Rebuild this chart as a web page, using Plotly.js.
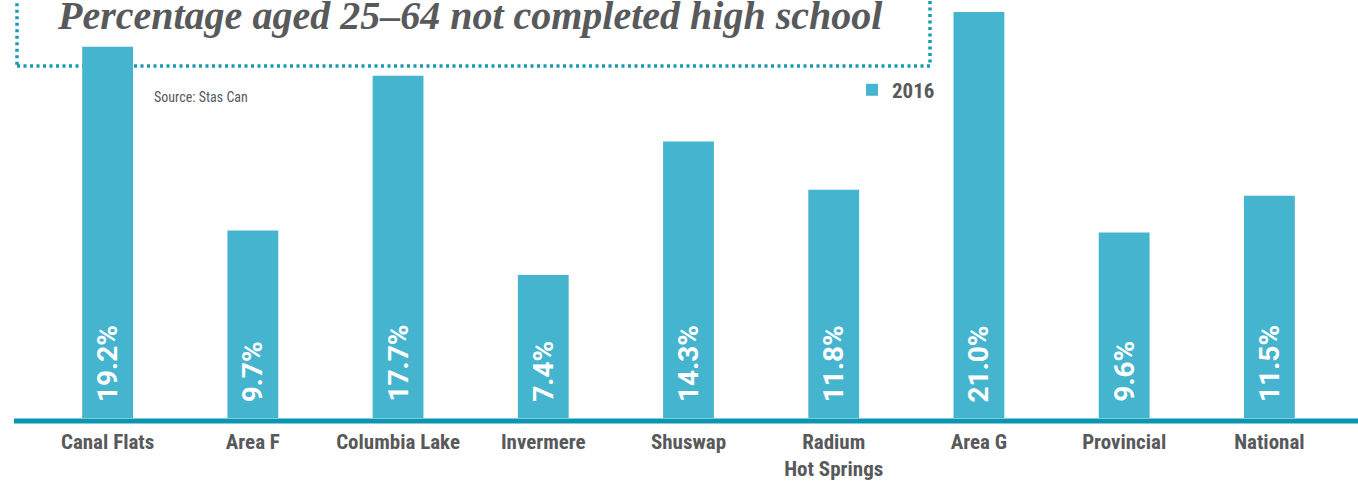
<!DOCTYPE html>
<html><head><meta charset="utf-8">
<script src="https://cdn.plot.ly/plotly-3.0.1.min.js"></script>
<style>html,body{margin:0;padding:0;background:#fff;}</style>
</head><body>
<div id="chart" style="width:1358px;height:482px;"></div>
<script>
const categories = ["Canal Flats","Area F","Columbia Lake","Invermere","Shuswap","Radium<br>Hot Springs","Area G","Provincial","National"];
const values2016 = [19.2, 9.7, 17.7, 7.4, 14.3, 11.8, 21.0, 9.6, 11.5];
const valueLabels = ["19.2%","9.7%","17.7%","7.4%","14.3%","11.8%","21.0%","9.6%","11.5%"];
const seriesName = "2016";
const titleText = "Percentage aged 25–64 not completed high school";
const sourceText = "Source: Stas Can";

const BAR = "#45b4cf", LINE = "#0a96b2", GREY = "#58595b";
const COND = "'Liberation Sans Narrow', 'Roboto Condensed', Roboto, sans-serif";

const trace = {
  type: "bar", x: categories, y: values2016, name: seriesName,
  marker: {color: BAR}, hoverinfo: "none", showlegend: true
};

const annotations = categories.map((c, i) => ({
  x: c, y: 0, xref: "x", yref: "y", text: valueLabels[i], showarrow: false,
  textangle: -90, xanchor: "center", yanchor: "bottom", yshift: 14,
  font: {family: "Roboto, sans-serif", size: 28, color: "#ffffff", weight: 700}
}));
annotations.push({
  xref: "paper", yref: "paper", x: (55-35)/1307, y: 1.0, xanchor: "left", yanchor: "middle",
  yshift: -15, text: "<b><i>" + titleText + "</i></b>", showarrow: false,
  font: {family: "'Liberation Serif', serif", size: 40, color: GREY}
});
annotations.push({
  xref: "paper", yref: "paper", x: (152-35)/1307, y: (418-97)/418, xanchor: "left", yanchor: "middle",
  text: sourceText, showarrow: false,
  font: {family: COND, size: 14, color: GREY}
});

const layout = {
  width: 1358, height: 482,
  margin: {l: 35, r: 16, t: 0, b: 64},
  paper_bgcolor: "#fff", plot_bgcolor: "#fff",
  bargap: 0.65,
  xaxis: {
    type: "category", showgrid: false, zeroline: false, showline: false, ticks: "",
    ticklabelstandoff: 9,
    tickfont: {family: COND, size: 21, color: GREY, weight: 700}
  },
  yaxis: {range: [0, 21.62], showgrid: false, zeroline: false, showline: false, showticklabels: false, ticks: "", fixedrange: true},
  showlegend: true,
  legend: {
    x: (852-35)/1307, y: (418-90)/418, xanchor: "left", yanchor: "middle",
    bgcolor: "rgba(0,0,0,0)", borderwidth: 0,
    font: {family: COND, size: 21, color: GREY, weight: 700},
    itemwidth: 30
  },
  shapes: [
    {type: "rect", xref: "paper", yref: "paper", layer: "below",
     x0: (17-35)/1307, x1: (930-35)/1307, y0: (418-66)/418, y1: 1.05,
     line: {color: "#1a9ab4", width: 3.5, dash: "3px,3.5px"}, fillcolor: "rgba(0,0,0,0)"},
    {type: "line", xref: "paper", yref: "paper", layer: "above",
     x0: (14-35)/1307, x1: 1.02, y0: -3/418, y1: -3/418,
     line: {color: LINE, width: 5}}
  ],
  annotations: annotations
};
Plotly.newPlot("chart", [trace], layout, {staticPlot: true, displayModeBar: false});
</script>
</body></html>
